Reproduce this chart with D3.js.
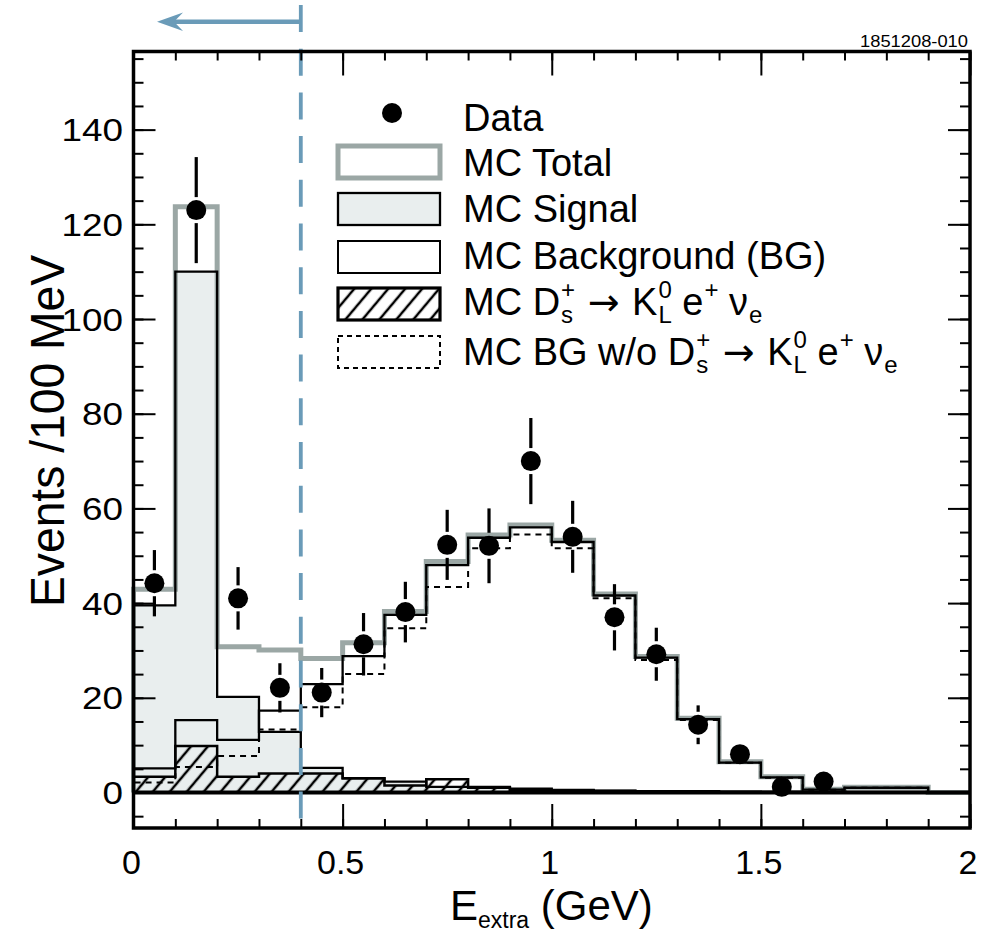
<!DOCTYPE html>
<html>
<head>
<meta charset="utf-8">
<title>E extra distribution</title>
<script src="https://d3js.org/d3.v7.min.js"></script>
<style>
  body { margin: 0; background: #fff; }
  svg { display: block; }
  text { font-family: "Liberation Sans", Arial, Helvetica, sans-serif; fill: #000; white-space: pre; }
</style>
</head>
<body>
<script>
//---- DATA ----//

// histogram bin edges (GeV)
var binEdges = [0, 0.1, 0.2, 0.3, 0.4, 0.5, 0.6, 0.7, 0.8, 0.9, 1.0,
                1.1, 1.2, 1.3, 1.4, 1.5, 1.6, 1.7, 1.8, 1.9, 2.0];

// MC histograms, events per bin
var mcTotal      = [42.9, 123.7, 30.8, 30.1, 28.3, 31.6, 38.2, 48.8, 54.4, 56.5, 53.3, 41.9, 28.7, 15.7, 6.5, 3.3, 0.7, 1.1, 1.1, 0];
var mcSignal     = [39.5, 110.0, 20.2, 12.8, 5.2, 3.0, 2.3, 1.2, 1.2, 0.8, 0.5, 0.4, 0.3, 0.3, 0.2, 0.1, 0.1, 0.1, 0.1, 0];
var mcBackground = [5.1, 15.3, 11.1, 17.3, 22.9, 28.8, 37.5, 48.0, 53.8, 56.0, 52.9, 41.6, 28.5, 15.5, 6.3, 3.2, 0.6, 1.0, 1.0, 0];
var mcKlenu      = [3.3, 9.8, 3.3, 4.0, 4.0, 3.0, 1.5, 2.8, 1.0, 0.6, 0.5, 0.3, 0.2, 0.2, 0.1, 0.1, 0, 0, 0, 0];
var mcBgNoKl     = [2.1, 5.4, 7.7, 13.3, 18.0, 25.0, 34.7, 43.4, 51.6, 54.5, 51.6, 41.0, 28.0, 15.3, 6.3, 3.1, 0.6, 1.0, 1.0, 0];

// data points
var dataX   = [0.05, 0.15, 0.25, 0.35, 0.45, 0.55, 0.65, 0.75, 0.85, 0.95, 1.05, 1.15, 1.25, 1.35, 1.45, 1.55, 1.65];
var dataY   = [44.2, 123.0, 41.0, 22.1, 21.1, 31.3, 38.1, 52.3, 52.1, 70.0, 54.0, 37.0, 29.2, 14.3, 8.1, 1.2, 2.3];
var dataErr = [7.0, 11.2, 6.6, 5.2, 5.2, 6.6, 6.4, 7.4, 7.9, 9.1, 7.6, 7.0, 5.6, 4.1, 2.6, 1.1, 1.5];

var xTicks = [0, 0.5, 1, 1.5, 2];
var xTickLabels = ["0", "0.5", "1", "1.5", "2"];
var yTicks = [0, 20, 40, 60, 80, 100, 120, 140];
var yTickLabels = ["0", "20", "40", "60", "80", "100", "120", "140"];
var cutValue = 0.4;

//---- SETUP ----//

var W = 995, H = 934;
var margin = {top: 51.5, right: 25, bottom: 106, left: 133.5};
var x = d3.scaleLinear().domain([0, 2]).range([margin.left, W - margin.right]);
var y = d3.scaleLinear().domain([-7.5, 156.5]).range([H - margin.bottom, margin.top]);

var totalGray = "#9ba7a5";
var signalFill = "#e9eeee";
var cutBlue = "#6a9bb8";

var svg = d3.select("body").append("svg")
    .attr("width", W)
    .attr("height", H);

var defs = svg.append("defs");
defs.append("pattern")
    .attr("id", "hatch")
    .attr("patternUnits", "userSpaceOnUse")
    .attr("width", 13)
    .attr("height", 13)
    .attr("patternTransform", "rotate(40)")
  .append("line")
    .attr("x1", 2).attr("y1", 0)
    .attr("x2", 2).attr("y2", 13)
    .attr("stroke", "#000")
    .attr("stroke-width", 2.5);

// step outline points for a histogram
function stepPoints(vals) {
  var pts = [[binEdges[0], 0]];
  vals.forEach(function(v, i) {
    pts.push([binEdges[i], v]);
    pts.push([binEdges[i + 1], v]);
  });
  pts.push([binEdges[binEdges.length - 1], 0]);
  return pts;
}

var line = d3.line().x(function(d) { return x(d[0]); }).y(function(d) { return y(d[1]); });
var area = d3.area().x(function(d) { return x(d[0]); }).y0(y(0)).y1(function(d) { return y(d[1]); });

var plot = svg.append("g");

// signal fill
plot.append("path")
    .attr("d", area(stepPoints(mcSignal)))
    .attr("fill", signalFill);

// MC total
plot.append("path")
    .attr("d", line(stepPoints(mcTotal)))
    .attr("fill", "none")
    .attr("stroke", totalGray)
    .attr("stroke-width", 5);

// Ds -> KL e nu, hatched
plot.append("path")
    .attr("d", area(stepPoints(mcKlenu)))
    .attr("fill", "url(#hatch)")
    .attr("stroke", "#000")
    .attr("stroke-width", 2.5);

// signal outline
plot.append("path")
    .attr("d", line(stepPoints(mcSignal)))
    .attr("fill", "none")
    .attr("stroke", "#000")
    .attr("stroke-width", 2.3);

// background outline
plot.append("path")
    .attr("d", line(stepPoints(mcBackground)))
    .attr("fill", "none")
    .attr("stroke", "#000")
    .attr("stroke-width", 2.3);

// background w/o KL e nu, dashed
plot.append("path")
    .attr("d", line(stepPoints(mcBgNoKl)))
    .attr("fill", "none")
    .attr("stroke", "#000")
    .attr("stroke-width", 2)
    .attr("stroke-dasharray", "6,5");

// zero line
plot.append("line")
    .attr("x1", x(0)).attr("x2", x(2))
    .attr("y1", y(0)).attr("y2", y(0))
    .attr("stroke", "#000")
    .attr("stroke-width", 4);

// data points with error bars (small gap around the marker)
var r = 10, gap = 3;
var pts = plot.selectAll("g.pt")
    .data(dataX.map(function(d, i) { return {x: d, y: dataY[i], e: dataErr[i]}; }))
    .enter().append("g").attr("class", "pt");
pts.append("line")
    .attr("x1", function(d) { return x(d.x); })
    .attr("x2", function(d) { return x(d.x); })
    .attr("y1", function(d) { return y(d.y + d.e); })
    .attr("y2", function(d) { return Math.max(y(d.y + d.e), y(d.y) - r - gap); })
    .attr("stroke", "#000").attr("stroke-width", 3.2);
pts.append("line")
    .attr("x1", function(d) { return x(d.x); })
    .attr("x2", function(d) { return x(d.x); })
    .attr("y1", function(d) { return y(d.y - d.e); })
    .attr("y2", function(d) { return Math.min(y(d.y - d.e), y(d.y) + r + gap); })
    .attr("stroke", "#000").attr("stroke-width", 3.2);
pts.append("circle")
    .attr("cx", function(d) { return x(d.x); })
    .attr("cy", function(d) { return y(d.y); })
    .attr("r", r)
    .attr("fill", "#000");

// cut line and arrow
svg.append("line")
    .attr("x1", x(cutValue)).attr("x2", x(cutValue))
    .attr("y1", 5).attr("y2", y.range()[0])
    .attr("stroke", cutBlue)
    .attr("stroke-width", 3.8)
    .attr("stroke-dasharray", "27,16.7");
svg.append("line")
    .attr("x1", x(cutValue)).attr("x2", 172)
    .attr("y1", 21.7).attr("y2", 21.7)
    .attr("stroke", cutBlue)
    .attr("stroke-width", 4.5);
svg.append("path")
    .attr("d", "M157,21.7 L183,12.5 L174,21.7 L183,31 Z")
    .attr("fill", cutBlue);

//---- AXES ----//

var frame = svg.append("g");
var x0 = x.range()[0], x1 = x.range()[1], yb = y.range()[0], yt = y.range()[1];

var xMinor = d3.range(0, 2.001, 0.1);
var yMinor = d3.range(-5, 156, 5);

function tickAxis(axis, tr) {
  var g = frame.append("g").attr("transform", tr).call(axis);
  g.select(".domain").remove();
  g.selectAll(".tick line").attr("stroke", "#000").attr("stroke-width", 2);
  g.selectAll(".tick text").remove();
}
tickAxis(d3.axisBottom(x).tickValues(xMinor).tickSize(-9), "translate(0," + yb + ")");
tickAxis(d3.axisBottom(x).tickValues(xTicks).tickSize(-24), "translate(0," + yb + ")");
tickAxis(d3.axisTop(x).tickValues(xMinor).tickSize(-9), "translate(0," + yt + ")");
tickAxis(d3.axisTop(x).tickValues(xTicks).tickSize(-24), "translate(0," + yt + ")");
tickAxis(d3.axisLeft(y).tickValues(yMinor).tickSize(-10), "translate(" + x0 + ",0)");
tickAxis(d3.axisLeft(y).tickValues(yTicks).tickSize(-22), "translate(" + x0 + ",0)");
tickAxis(d3.axisRight(y).tickValues(yMinor).tickSize(-10), "translate(" + x1 + ",0)");
tickAxis(d3.axisRight(y).tickValues(yTicks).tickSize(-22), "translate(" + x1 + ",0)");

frame.append("rect")
    .attr("x", x0).attr("y", yt)
    .attr("width", x1 - x0).attr("height", yb - yt)
    .attr("fill", "none")
    .attr("stroke", "#000")
    .attr("stroke-width", 3.5);

// tick labels
svg.selectAll("text.ylab")
    .data(yTicks)
    .enter().append("text")
    .attr("class", "ylab")
    .attr("x", 123)
    .attr("y", function(d) { return y(d) + 11.5; })
    .attr("text-anchor", "end")
    .attr("font-size", 32)
    .attr("textLength", function(d, i) { return yTickLabels[i].length * 20.5; })
    .attr("lengthAdjust", "spacingAndGlyphs")
    .text(function(d, i) { return yTickLabels[i]; });

svg.selectAll("text.xlab")
    .data(xTicks)
    .enter().append("text")
    .attr("class", "xlab")
    .attr("x", function(d) { return x(d) - 2; })
    .attr("y", 874)
    .attr("text-anchor", "middle")
    .attr("font-size", 34)
    .text(function(d, i) { return xTickLabels[i]; });

// axis titles
svg.append("text")
    .attr("transform", "translate(64,431) rotate(-90)")
    .attr("text-anchor", "middle")
    .attr("font-size", 48)
    .attr("textLength", 352)
    .attr("lengthAdjust", "spacingAndGlyphs")
    .text("Events /100 MeV");

var xt = svg.append("text").attr("y", 920).attr("font-size", 42);
xt.append("tspan").attr("x", 450).text("E");
xt.append("tspan").attr("font-size", 23).attr("dy", 8).text("extra");
xt.append("tspan").attr("font-size", 42).attr("dy", -8).text(" (GeV)");

svg.append("text")
    .attr("x", 968).attr("y", 47)
    .attr("text-anchor", "end")
    .attr("font-size", 17)
    .attr("textLength", 108)
    .attr("lengthAdjust", "spacingAndGlyphs")
    .text("1851208-010");

//---- LEGEND ----//

var leg = svg.append("g");
var legX = 338, legW = 102, legH = 32, textX = 463, fs = 38, fsSmall = 24;

// one text element per row, tspans placed one after another
function richRow(xs, base, parts) {
  var t = leg.append("text").attr("font-size", fs);
  var cx = xs;
  parts.forEach(function(p) {
    var w;
    if (p.gap) {
      w = p.gap;
    } else if (p.t) {
      var s = t.append("tspan").attr("x", cx).attr("y", base).text(p.t);
      if (p.font) s.style("font-family", p.font);
      w = s.node().getComputedTextLength();
    } else if (p.stack) {
      var a = t.append("tspan").attr("x", cx + 1).attr("y", base - 17).attr("font-size", fsSmall).text(p.stack[0]);
      var wa = a.node().getComputedTextLength();
      var b = t.append("tspan").attr("x", cx + 1).attr("y", base + 8).attr("font-size", fsSmall).text(p.stack[1]);
      w = Math.max(wa, b.node().getComputedTextLength()) + 1;
    } else if (p.sup) {
      var u = t.append("tspan").attr("x", cx + 1).attr("y", base - 17).attr("font-size", fsSmall).text(p.sup);
      w = u.node().getComputedTextLength() + 1;
    } else if (p.sub) {
      var v = t.append("tspan").attr("x", cx + 1).attr("y", base + 8).attr("font-size", fsSmall).text(p.sub);
      w = v.node().getComputedTextLength() + 1;
    }
    cx += w;
  });
}

var decay = [{stack: ["+", "s"]}, {t: " "}, {gap: 2}, {t: "\u2192", font: "DejaVu Sans"}, {gap: 2}, {t: " K"},
             {stack: ["0", "L"]}, {t: " e"}, {sup: "+"}, {t: " \u03bd"}, {sub: "e"}];

// Data
leg.append("circle").attr("cx", 392).attr("cy", 113).attr("r", 10).attr("fill", "#000");
richRow(textX, 131, [{t: "Data"}]);

// MC Total
leg.append("rect").attr("x", legX).attr("y", 146).attr("width", legW).attr("height", legH)
    .attr("fill", "#fff").attr("stroke", totalGray).attr("stroke-width", 5);
richRow(textX, 176, [{t: "MC Total"}]);

// MC Signal
leg.append("rect").attr("x", legX).attr("y", 193).attr("width", legW).attr("height", legH)
    .attr("fill", signalFill).attr("stroke", "#000").attr("stroke-width", 2.3);
richRow(textX, 222, [{t: "MC Signal"}]);

// MC Background
leg.append("rect").attr("x", legX).attr("y", 241).attr("width", legW).attr("height", legH)
    .attr("fill", "#fff").attr("stroke", "#000").attr("stroke-width", 2);
richRow(textX, 269, [{t: "MC Background (BG)"}]);

// MC Ds -> KL e nu
leg.append("rect").attr("x", legX).attr("y", 288).attr("width", legW).attr("height", legH)
    .attr("fill", "url(#hatch)").attr("stroke", "#000").attr("stroke-width", 3.2);
richRow(textX, 315, [{t: "MC D"}].concat(decay));

// MC BG w/o
leg.append("rect").attr("x", legX).attr("y", 336).attr("width", legW).attr("height", legH)
    .attr("fill", "#fff").attr("stroke", "#000").attr("stroke-width", 2)
    .attr("stroke-dasharray", "5,4");
richRow(textX, 365, [{t: "MC BG w/o D"}].concat(decay));
</script>
</body>
</html>
